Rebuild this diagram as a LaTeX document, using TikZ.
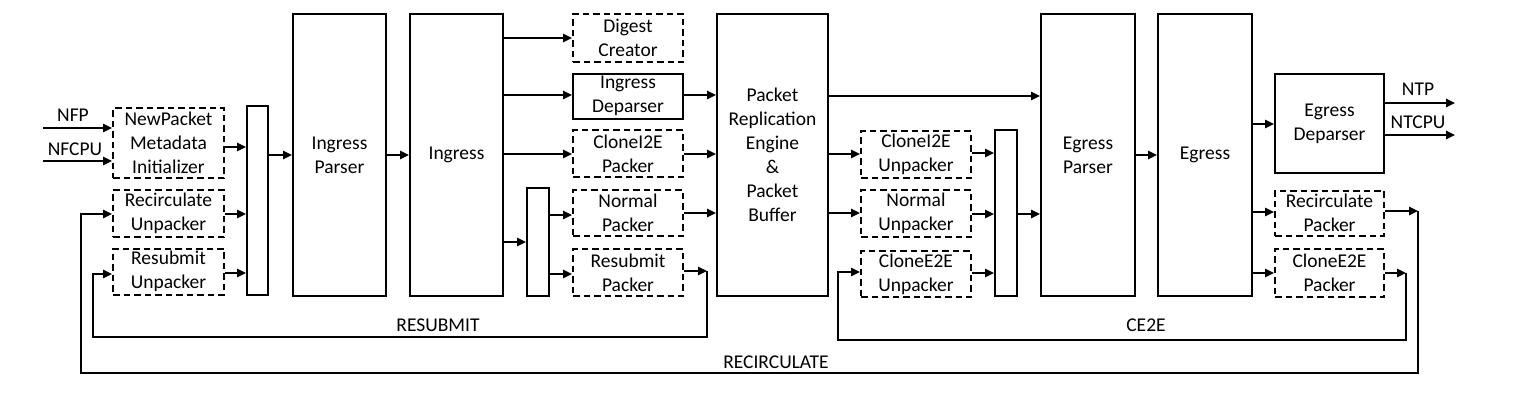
\documentclass[tikz,border=0pt]{standalone}
\usepackage{fontspec}
\setmainfont{Carlito}
\usetikzlibrary{arrows.meta}
\begin{document}
\begin{tikzpicture}[x=1pt,y=-1pt,
  every node/.style={font=\fontsize{19.5}{24}\selectfont, align=center, inner sep=0pt},
  blk/.style={draw, line width=2pt, rectangle},
  dbox/.style={draw, line width=2pt, rectangle, dash pattern=on 6.5pt off 4pt},
  arr/.style={-{Triangle[length=9pt,width=8.5pt]}, line width=1.3pt},
  ln/.style={line width=1.3pt},
  lbl/.style={inner sep=0pt}]
\useasboundingbox (0,0) rectangle (1520,400);
% left column
\node[dbox, minimum width=111, minimum height=70] (npi) at (168.5,143) {NewPacket\\Metadata\\Initializer};
\node[dbox, minimum width=111, minimum height=47] (recU) at (168.5,213.5) {Recirculate\\Unpacker};
\node[dbox, minimum width=111, minimum height=46] (resU) at (168.5,271.5) {Resubmit\\Unpacker};
\node[blk, minimum width=21, minimum height=189] (mux1) at (257.5,200.5) {};
\node[blk, minimum width=93, minimum height=282] (ip) at (339.5,155) {Ingress\\Parser};
\node[blk, minimum width=93, minimum height=282] (ing) at (456.5,155) {Ingress};
% ingress outputs
\node[dbox, minimum width=110, minimum height=48] (dig) at (628,38) {Digest\\Creator};
\node[blk, minimum width=110, minimum height=45] (idp) at (628,96) {Ingress\\Deparser};
\node[dbox, minimum width=110, minimum height=47] (ci2eP) at (628,153.5) {CloneI2E\\Packer};
\node[dbox, minimum width=110, minimum height=46] (normP) at (628,213) {Normal\\Packer};
\node[dbox, minimum width=110, minimum height=47] (resP) at (628,272.5) {Resubmit\\Packer};
\node[blk, minimum width=22, minimum height=108] (smux) at (538,242) {};
% PRE
\node[blk, minimum width=111, minimum height=282] (pre) at (772.5,155) {Packet\\Replication\\Engine\\\&\\Packet\\Buffer};
% egress inputs
\node[dbox, minimum width=110, minimum height=47] (ci2eU) at (916,154.5) {CloneI2E\\Unpacker};
\node[dbox, minimum width=110, minimum height=47] (normU) at (916,213.5) {Normal\\Unpacker};
\node[dbox, minimum width=110, minimum height=46] (ce2eU) at (916,274) {CloneE2E\\Unpacker};
\node[blk, minimum width=22, minimum height=166] (mux2) at (1006,213) {};
\node[blk, minimum width=94, minimum height=282] (ep) at (1088,155) {Egress\\Parser};
\node[blk, minimum width=94, minimum height=282] (eg) at (1205,155) {Egress};
\node[blk, minimum width=109, minimum height=99] (edp) at (1329.5,123.5) {Egress\\Deparser};
\node[dbox, minimum width=109, minimum height=45] (recP) at (1329.5,213) {Recirculate\\Packer};
\node[dbox, minimum width=109, minimum height=48] (ce2eP) at (1329.5,273) {CloneE2E\\Packer};
% free ends
\coordinate (nfp) at (43,128);
\coordinate (nfcpu) at (43,161);
\coordinate (ntp) at (1455,103);
\coordinate (ntcpu) at (1455,135);
\coordinate (rsA) at (707,271);
\coordinate (rsB) at (93,337);
\coordinate (rcA) at (1418,211);
\coordinate (rcB) at (81,373);
\coordinate (ceA) at (1406,273);
\coordinate (ceB) at (838,340);
% labels
\node[lbl] (lnfp) at (73,115) {NFP};
\node[lbl] (lnfcpu) at (75,149) {NFCPU};
\node[lbl] (lntp) at (1418,89) {NTP};
\node[lbl] (lntcpu) at (1418,122) {NTCPU};
\node[lbl] (lres) at (438,325) {RESUBMIT};
\node[lbl] (lrec) at (776,362) {RECIRCULATE};
\node[lbl] (lce) at (1146,325) {CE2E};
% connectors left
\draw[arr] (nfp) -- (npi.west |- nfp);
\draw[arr] (nfcpu) -- (npi.west |- nfcpu);
\draw[arr] (npi.east |- 0,147) -- (mux1.west |- 0,147);
\draw[arr] (recU.east |- 0,214) -- (mux1.west |- 0,214);
\draw[arr] (resU.east |- 0,273) -- (mux1.west |- 0,273);
\draw[arr] (mux1.east |- 0,155) -- (ip.west |- 0,155);
\draw[arr] (ip.east |- 0,155) -- (ing.west |- 0,155);
% ingress outputs
\draw[arr] (ing.east |- 0,38) -- (dig.west |- 0,38);
\draw[arr] (ing.east |- 0,95) -- (idp.west |- 0,95);
\draw[arr] (ing.east |- 0,154) -- (ci2eP.west |- 0,154);
\draw[arr] (ing.east |- 0,242) -- (smux.west |- 0,242);
\draw[arr] (smux.east |- 0,215) -- (normP.west |- 0,215);
\draw[arr] (smux.east |- 0,274) -- (resP.west |- 0,274);
\draw[arr] (idp.east |- 0,95) -- (pre.west |- 0,95);
\draw[arr] (ci2eP.east |- 0,154) -- (pre.west |- 0,154);
\draw[arr] (normP.east |- 0,213) -- (pre.west |- 0,213);
% resubmit loop
\draw[arr] (resP.east |- rsA) -- (rsA);
\draw[arr] (rsA) |- (rsB) |- (resU.west |- 0,274);
% PRE outputs
\draw[arr] (pre.east |- 0,96) -- (ep.west |- 0,96);
\draw[arr] (pre.east |- 0,154) -- (ci2eU.west |- 0,154);
\draw[arr] (pre.east |- 0,213) -- (normU.west |- 0,213);
\draw[arr] (ci2eU.east |- 0,153) -- (mux2.west |- 0,153);
\draw[arr] (normU.east |- 0,214) -- (mux2.west |- 0,214);
\draw[arr] (ce2eU.east |- 0,273) -- (mux2.west |- 0,273);
\draw[arr] (mux2.east |- 0,214) -- (ep.west |- 0,214);
\draw[arr] (ep.east |- 0,155) -- (eg.west |- 0,155);
\draw[arr] (eg.east |- 0,124) -- (edp.west |- 0,124);
\draw[arr] (eg.east |- 0,212) -- (recP.west |- 0,212);
\draw[arr] (eg.east |- 0,273) -- (ce2eP.west |- 0,273);
\draw[arr] (edp.east |- ntp) -- (ntp);
\draw[arr] (edp.east |- ntcpu) -- (ntcpu);
% recirculate loop
\draw[arr] (recP.east |- rcA) -- (rcA);
\draw[arr] (rcA) |- (rcB) |- (recU.west |- 0,214);
% CE2E loop
\draw[arr] (ce2eP.east |- ceA) -- (ceA);
\draw[arr] (ceA) |- (ceB) |- (ce2eU.west |- 0,272);
\end{tikzpicture}
\end{document}
